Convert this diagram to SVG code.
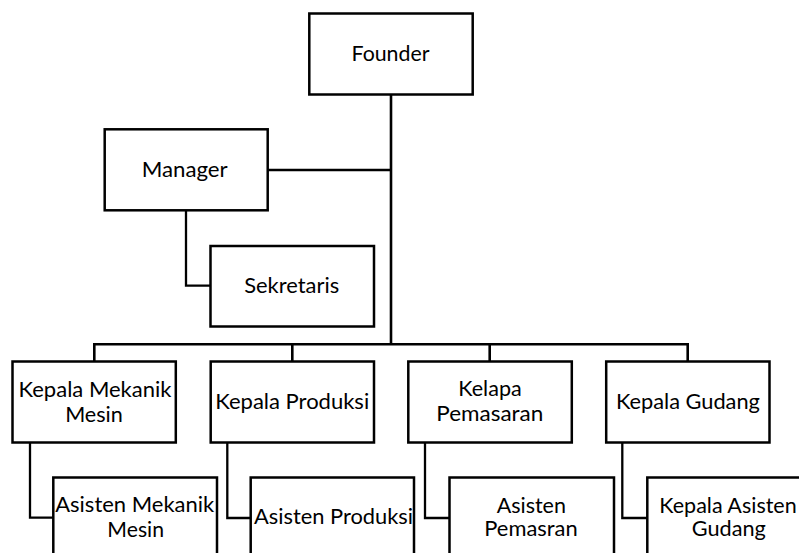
<svg xmlns="http://www.w3.org/2000/svg" width="799" height="553" viewBox="0 0 799 553">
<style>
.box{fill:#fff;stroke:#000;stroke-width:2.5}
.c{fill:none;stroke:#000;stroke-width:2.3}
.cm{fill:none;stroke:#000;stroke-width:2.6}
text{font-family:Lato,"Open Sans","Liberation Sans",sans-serif;font-size:21px;fill:#000;text-anchor:middle}
</style>
<rect width="799" height="553" fill="#fff"/>
<g id="connectors">
<path class="cm" d="M391 94.3V344.3"/>
<path class="c" d="M267.7 170H391"/>
<path class="c" d="M186 210V285.7H210.5"/>
<path class="cm" d="M94.3 361.5V344.3H687.7V361.5M292.3 344.3V361.5M489.7 344.3V361.5"/>
<path class="c" d="M30 442.5V517.7H53.3"/>
<path class="c" d="M227.3 442.5V518H250.7"/>
<path class="c" d="M425 442.5V518H449"/>
<path class="c" d="M622.3 442.5V518H647.3"/>
</g>
<g id="founder"><rect class="box" x="309.3" y="13.5" width="163.4" height="81"/><text x="390.5" y="61" textLength="78" lengthAdjust="spacingAndGlyphs">Founder</text></g>
<g id="manager"><rect class="box" x="104.7" y="129.3" width="163" height="81"/><text x="184.7" y="176.7" textLength="86" lengthAdjust="spacingAndGlyphs">Manager</text></g>
<g id="sekretaris"><rect class="box" x="210.5" y="246" width="163.5" height="80.5"/><text x="291.7" y="292.7" textLength="95" lengthAdjust="spacingAndGlyphs">Sekretaris</text></g>
<g id="kepala-mekanik"><rect class="box" x="12.5" y="361.5" width="163.3" height="81"/><text x="95" y="396.7" textLength="153" lengthAdjust="spacingAndGlyphs">Kepala Mekanik</text><text x="94" y="421.7" textLength="57.7" lengthAdjust="spacingAndGlyphs">Mesin</text></g>
<g id="kepala-produksi"><rect class="box" x="210.7" y="361.5" width="163.3" height="81"/><text x="292.2" y="409" textLength="154" lengthAdjust="spacingAndGlyphs">Kepala Produksi</text></g>
<g id="kelapa-pemasaran"><rect class="box" x="408.3" y="361.5" width="163.5" height="81"/><text x="490" y="395.7" textLength="63.4" lengthAdjust="spacingAndGlyphs">Kelapa</text><text x="489.8" y="420.7" textLength="107" lengthAdjust="spacingAndGlyphs">Pemasaran</text></g>
<g id="kepala-gudang"><rect class="box" x="606.2" y="361.5" width="163.3" height="81"/><text x="687.9" y="409" textLength="144" lengthAdjust="spacingAndGlyphs">Kepala Gudang</text></g>
<g id="asisten-mekanik"><rect class="box" x="53.3" y="477.5" width="163.7" height="85"/><text x="134.7" y="512" textLength="159" lengthAdjust="spacingAndGlyphs">Asisten Mekanik</text><text x="135.7" y="536.5" textLength="56.7" lengthAdjust="spacingAndGlyphs">Mesin</text></g>
<g id="asisten-produksi"><rect class="box" x="250.7" y="477.5" width="163.3" height="85"/><text x="333.5" y="524" textLength="159" lengthAdjust="spacingAndGlyphs">Asisten Produksi</text></g>
<g id="asisten-pemasran"><rect class="box" x="449.5" y="477.5" width="164.5" height="85"/><text x="531.3" y="513.3" textLength="69.3" lengthAdjust="spacingAndGlyphs">Asisten</text><text x="531" y="536" textLength="93.4" lengthAdjust="spacingAndGlyphs">Pemasran</text></g>
<g id="kepala-asisten-gudang"><rect class="box" x="647.3" y="477.5" width="163.5" height="85"/><text x="728" y="513.3" textLength="137.4" lengthAdjust="spacingAndGlyphs">Kepala Asisten</text><text x="728.8" y="536" textLength="74" lengthAdjust="spacingAndGlyphs">Gudang</text></g>
</svg>
